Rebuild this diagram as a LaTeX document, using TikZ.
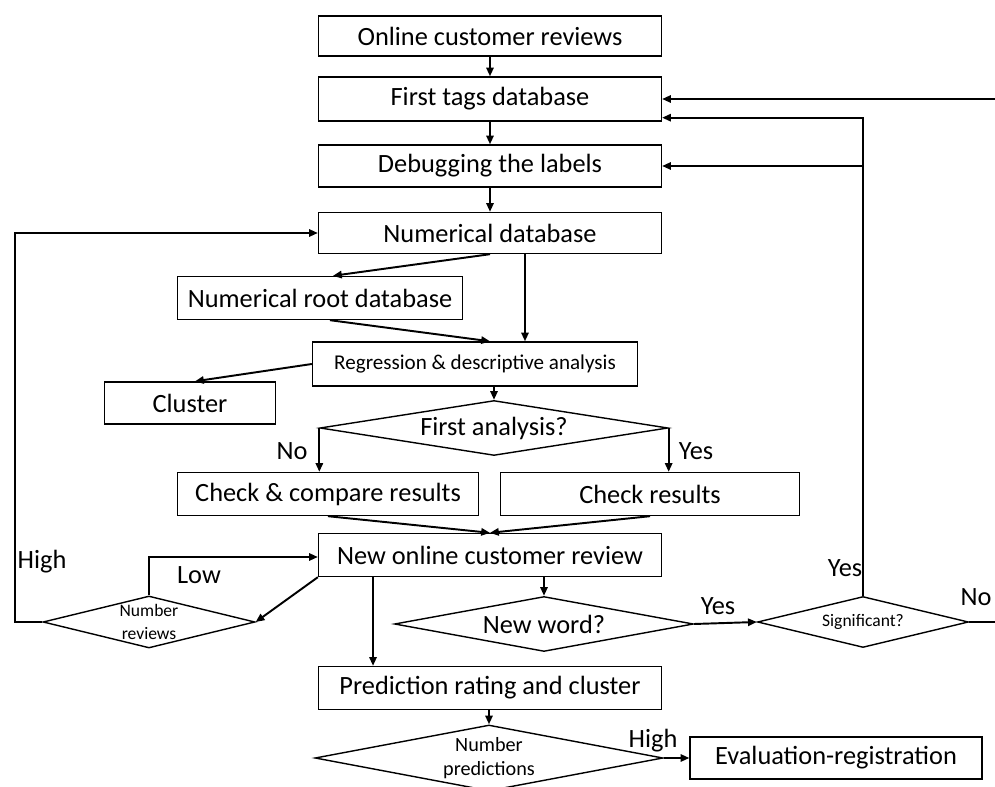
\documentclass[tikz,border=0pt]{standalone}
\usepackage{fontspec}
\setmainfont{Carlito}
\usetikzlibrary{shapes.geometric, arrows.meta}

\begin{document}
\begin{tikzpicture}[x=0.02cm, y=-0.02cm, font=\fontsize{15}{18}\selectfont,
		box/.style={draw, line width=0.8pt, inner sep=0pt, minimum height=0.86cm},
		decision/.style={draw, diamond, line width=0.8pt, inner sep=0pt},
		small/.style={font=\fontsize{10}{13.5}\selectfont, align=center},
		arr/.style={line width=1.1pt, -{Triangle[length=5pt, width=4.2pt]}},
		lbl/.style={inner sep=0pt}]
		\useasboundingbox (0,0) rectangle (995,787);

		\node[box, minimum width=6.86cm, minimum height=0.8cm] (rev) at (490,36) {Online customer reviews};
		\node[box, minimum width=6.86cm, minimum height=0.88cm] (tags) at (490,99) {First tags database};
		\node[box, minimum width=6.86cm, minimum height=0.84cm] (debug) at (490,166) {Debugging the labels};
		\node[box, minimum width=6.86cm, minimum height=0.82cm] (numdb) at (490,233) {Numerical database};
		\node[box, minimum width=5.7cm] (rootdb) at (320,298) {Numerical root database};
		\node[box, minimum width=6.5cm, minimum height=0.88cm, font=\fontsize{12}{14}\selectfont] (regr) at (475,364) {Regression \& descriptive analysis};
		\node[box, minimum width=3.42cm, minimum height=0.84cm] (clus) at (190,403) {Cluster};
		\node[decision, minimum width=6.96cm, minimum height=1.1cm, label={center:First analysis?}] (first) at (494,428) {};
		\node[box, minimum width=6.02cm] (cmp) at (328,494) {Check \& compare results};
		\node[box, minimum width=5.98cm] (chk) at (650,494) {Check results};
		\node[box, minimum width=6.86cm] (newrev) at (490,555) {New online customer review};
		\node[decision, minimum width=4.24cm, minimum height=1.04cm, label={[small]center:Number\\reviews}] (numrev) at (149,622) {};
		\node[decision, minimum width=5.98cm, minimum height=1.1cm, label={center:New word?}] (newword) at (544,624) {};
		\node[decision, minimum width=4.22cm, minimum height=1.02cm, label={[small]center:Significant?}] (signif) at (863,622) {};
		\node[box, minimum width=6.86cm] (pred) at (490,688) {Prediction rating and cluster};
		\node[decision, minimum width=6.96cm, minimum height=1.32cm, label={[small, font=\fontsize{11.5}{14}\selectfont]center:Number\\predictions}] (numpred) at (489,758) {};
		\node[box, minimum width=5.84cm, minimum height=0.84cm] (eval) at (836,758) {Evaluation-registration};

		\node[lbl] (no1) at (292,451) {No};
		\node[lbl] (yes1) at (696,451) {Yes};
		\node[lbl] (high1) at (42,562) {High};
		\node[lbl] (low1) at (199,575) {Low};
		\node[lbl] (yes2) at (718,606) {Yes};
		\node[lbl] (yes3) at (845,568) {Yes};
		\node[lbl] (no2) at (976,597) {No};
		\node[lbl] (high2) at (653,741) {High};

		\coordinate (hiturn) at (15,622);
		\coordinate (rtturn) at (1002,622);

		\draw[arr] (rev) -- (tags);
		\draw[arr] (tags) -- (debug);
		\draw[arr] (debug) -- (numdb);
		\draw[arr] (numdb.south) -- ([xshift=0.26cm]rootdb.north);
		\draw[arr] ([xshift=0.7cm]numdb.south) -- ([xshift=0.7cm]numdb.south |- regr.north);
		\draw[arr] ([xshift=0.2cm]rootdb.south) -- ([xshift=0.3cm]regr.north);
		\draw[arr] (regr.west) -- ([xshift=0.1cm]clus.north);
		\draw[arr] (first.north |- regr.south) -- (first.north);
		\draw[arr] (first.west) -- (first.west |- cmp.north);
		\draw[arr] (first.east) -- (first.east |- chk.north);
		\draw[arr] (cmp.south) -- (newrev.north);
		\draw[arr] (chk.south) -- (newrev.north);
		\draw[arr] (newword.north |- newrev.south) -- (newword.north);
		\draw[arr] ([xshift=-2.34cm]newrev.south) -- ([xshift=-2.34cm]newrev.south |- pred.north);
		\draw[arr] (newrev.south west) -- (numrev.east);
		\draw[arr] (numrev.north) |- ([yshift=-0.04cm]newrev.west);
		\draw[arr] (numrev.west) -- (hiturn) |- (numdb.west);
		\draw[arr] (newword.east) -- (signif.west);
		\draw[arr] (signif.north) |- ([yshift=0.08cm]tags.south east);
		\draw[arr] (signif.north |- debug.east) -- (debug.east);
		\draw[arr] (signif.east) -- (rtturn) |- (tags.east);
		\draw[arr] (numpred.north |- pred.south) -- (numpred.north);
		\draw[arr] (numpred.east) -- (eval.west);
	\end{tikzpicture}
\end{document}
